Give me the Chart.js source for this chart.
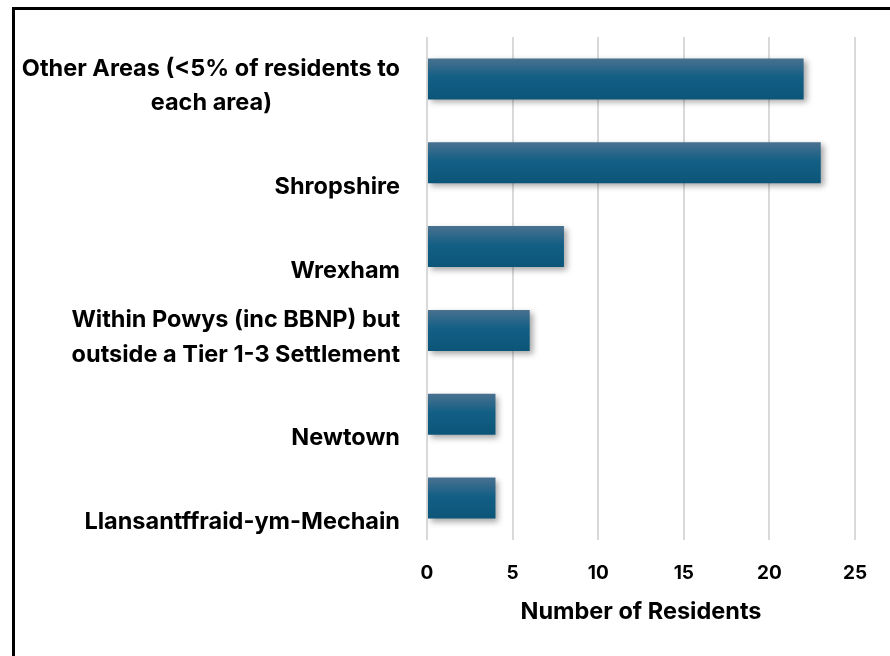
<!DOCTYPE html>
<html>
<head>
<meta charset="utf-8">
<script src="https://cdn.jsdelivr.net/npm/chart.js@4/dist/chart.umd.min.js"></script>
<style>
  html, body { margin: 0; padding: 0; background: #ffffff; }
  #wrap { position: absolute; left: 0; top: 0; width: 890px; height: 656px; }
  #frame { position: absolute; left: 12px; top: 7px; width: 900px; height: 700px;
           border-left: 3px solid #000; border-top: 3px solid #000; box-sizing: border-box; }
  canvas { position: absolute; left: 0; top: 0; }
</style>
</head>
<body>
<div id="wrap">
  <div id="frame"></div>
  <canvas id="c" width="890" height="656"></canvas>
</div>
<script>
const categories = [
  ['Other Areas (<5% of residents to', 'each area)'],
  ['', 'Shropshire'],
  ['', 'Wrexham'],
  ['Within Powys (inc BBNP) but', 'outside a Tier 1-3 Settlement'],
  ['', 'Newtown'],
  ['', 'Llansantffraid-ym-Mechain']
];
const residents = [22, 23, 8, 6, 4, 4];
const xTicks = [0, 5, 10, 15, 20, 25];
const axisTitle = 'Number of Residents';

const FONT = 'Inter, "Open Sans", sans-serif';
const LABEL_SIZE = 23.5;
const BAR_PCT = 0.49;

// centre the lines of a multi-line label within its (right-aligned) block
const measureCtx = document.createElement('canvas').getContext('2d');
measureCtx.font = 'bold ' + LABEL_SIZE + 'px ' + FONT;
function centreLines(lines) {
  const widths = lines.map(l => measureCtx.measureText(l).width);
  const maxW = Math.max(...widths);
  const sp = measureCtx.measureText(' ').width;
  return lines.map((l, i) => {
    if (!l) return l;
    const n = Math.round(((maxW - widths[i]) / 2) / sp);
    return l + ' '.repeat(n);
  });
}

function barGradient(ctx) {
  const chart = ctx.chart;
  const ys = chart.scales && chart.scales.y;
  if (!chart.chartArea || !ys || ctx.dataIndex === undefined) return '#135f85';
  const c = ys.getPixelForValue(ctx.dataIndex);
  const half = (ys.height / categories.length) * BAR_PCT / 2;
  const g = chart.ctx.createLinearGradient(0, c - half, 0, c + half);
  g.addColorStop(0, '#4a7190');
  g.addColorStop(0.45, '#135f85');
  g.addColorStop(1, '#0b5578');
  return g;
}

const barShadow = {
  id: 'barShadow',
  beforeDatasetsDraw(chart) {
    const ctx = chart.ctx;
    ctx.save();
    ctx.shadowColor = 'rgba(0,0,0,0.35)';
    ctx.shadowBlur = 6;
    ctx.shadowOffsetX = 3;
    ctx.shadowOffsetY = 3;
  },
  afterDatasetsDraw(chart) {
    chart.ctx.restore();
  }
};

new Chart(document.getElementById('c'), {
  type: 'bar',
  data: {
    labels: categories,
    datasets: [{
      data: residents,
      backgroundColor: barGradient,
      borderWidth: 0,
      categoryPercentage: 1,
      barPercentage: BAR_PCT
    }]
  },
  options: {
    indexAxis: 'y',
    responsive: false,
    animation: false,
    devicePixelRatio: 1,
    layout: { padding: { top: 37, right: 35, left: 0, bottom: 0 } },
    plugins: { legend: { display: false }, tooltip: { enabled: false } },
    scales: {
      x: {
        min: 0, max: 25,
        afterBuildTicks(scale) { scale.ticks = xTicks.map(v => ({ value: v })); },
        afterFit(scale) { scale.height = 116; scale.paddingLeft = 0; scale.paddingRight = 0; },
        grid: { color: '#d9d9d9', lineWidth: 2, drawTicks: false },
        border: { display: false },
        ticks: { color: '#000', padding: 22, font: { family: FONT, weight: 'bold', size: 19 } },
        title: {
          display: true, text: axisTitle, color: '#000',
          font: { family: FONT, weight: 'bold', size: 23.5 },
          padding: { top: 10, bottom: 30 }
        }
      },
      y: {
        afterFit(scale) { scale.width = 427; scale.paddingTop = 0; scale.paddingBottom = 0; },
        grid: { display: false, drawTicks: false },
        border: { display: false },
        ticks: {
          color: '#000', padding: 27, labelOffset: 7,
          callback: (v, i) => centreLines(categories[i]),
          font: { family: FONT, weight: 'bold', size: LABEL_SIZE, lineHeight: 1.45 }
        }
      }
    }
  },
  plugins: [barShadow]
});
</script>
</body>
</html>
